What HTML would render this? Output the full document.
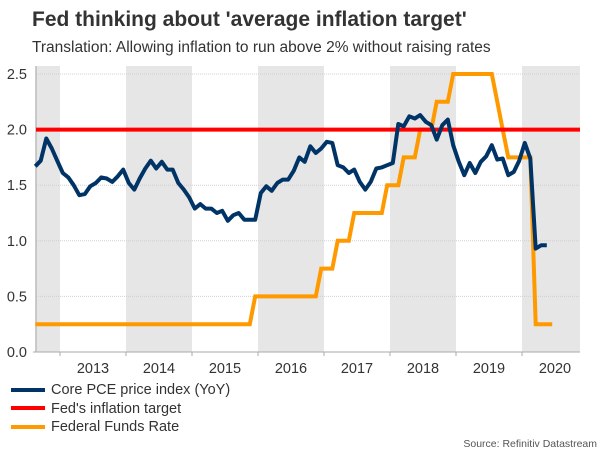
<!DOCTYPE html>
<html><head><meta charset="utf-8">
<style>
body{margin:0;background:#fff;}
svg{display:block;font-family:"Liberation Sans",Arial,sans-serif;}
</style></head>
<body>
<svg id="chart" width="600" height="450" viewBox="0 0 600 450">
<text x="32" y="26" font-size="21" font-weight="bold" fill="#333">Fed thinking about 'average inflation target'</text>
<text x="32" y="52" font-size="15.5" fill="#333">Translation: Allowing inflation to run above 2% without raising rates</text>
<g id="bands"></g>
<g id="grid"></g>
<g id="axes"></g>
<g id="series"></g>
<g>
 <g><rect x="11" y="388" width="34" height="4" fill="#003366"/><text x="51" y="394" font-size="14.5" fill="#333">Core PCE price index (YoY)</text></g>
 <g><rect x="11" y="406" width="34" height="4" fill="#ff0000"/><text x="51" y="413" font-size="14.5" fill="#333">Fed's inflation target</text></g>
 <g><rect x="11" y="425" width="34" height="4" fill="#ff9900"/><text x="51" y="431" font-size="14.5" fill="#333">Federal Funds Rate</text></g>
</g>
<text x="597" y="447" font-size="10.5" fill="#555" text-anchor="end">Source: Refinitiv Datastream</text>
</svg>
<script>
// Data: monthly, starting Aug 2012
const startYear = 2012, startMonth = 7; // 0-based month (Aug)
const corePCE = [1.67,1.72,1.92,1.83,1.72,1.61,1.57,1.50,1.41,1.42,1.49,1.52,1.57,1.56,1.53,1.58,1.64,1.52,1.46,1.56,1.65,1.72,1.65,1.71,1.64,1.64,1.52,1.46,1.39,1.29,1.33,1.29,1.29,1.25,1.27,1.18,1.23,1.25,1.19,1.19,1.19,1.43,1.49,1.45,1.52,1.55,1.55,1.63,1.75,
 1.71,1.85,1.79,1.83,1.89,1.88,1.68,1.66,1.61,1.64,1.53,1.46,1.53,1.65,1.66,1.68,1.70,2.05,2.03,2.12,2.10,2.13,2.07,2.04,1.91,2.04,2.09,1.86,1.71,1.59,1.70,1.61,1.71,1.76,1.86,1.73,1.74,1.59,1.62,1.72,1.88,1.74,0.93,0.96,0.96];
const fedFunds = [0.25,0.25,0.25,0.25,0.25,
 0.25,0.25,0.25,0.25,0.25,0.25,0.25,0.25,0.25,0.25,0.25,0.25,
 0.25,0.25,0.25,0.25,0.25,0.25,0.25,0.25,0.25,0.25,0.25,0.25,
 0.25,0.25,0.25,0.25,0.25,0.25,0.25,0.25,0.25,0.25,0.25,0.5,
 0.5,0.5,0.5,0.5,0.5,0.5,0.5,0.5,0.5,0.5,0.5,0.75,
 0.75,0.75,1.0,1.0,1.0,1.25,1.25,1.25,1.25,1.25,1.25,1.5,
 1.5,1.5,1.75,1.75,1.75,2.0,2.0,2.0,2.25,2.25,2.25,2.5,
 2.5,2.5,2.5,2.5,2.5,2.5,2.5,2.25,2.0,1.75,1.75,1.75,
 1.75,1.75,0.25,0.25,0.25,0.25];
const fedTarget = [2.0];
const yTicks = [0,0.5,1.0,1.5,2.0,2.5];
const yTickLabels = ["0.0","0.5","1.0","1.5","2.0","2.5"];
const years = [2013,2014,2015,2016,2017,2018,2019,2020];

const NS="http://www.w3.org/2000/svg";
const L=36,R=580,T=74,B=352;
function xYear(y){return 60+(y-2013)*66;}
function xMonth(i){const m=startMonth+i;return xYear(startYear+(m+0.5)/12);}
function yS(v){return B-(v/2.5)*(B-T);}
function mk(tag,attrs,parent){const e=document.createElementNS(NS,tag);for(const k in attrs)e.setAttribute(k,attrs[k]);parent.appendChild(e);return e;}

const bands=document.getElementById('bands');
[[2012,2013],[2014,2015],[2016,2017],[2018,2019],[2020,2021]].forEach(([a,b])=>{
 const x0=Math.max(L,xYear(a)),x1=Math.min(R,xYear(b));
 const r=mk('rect',{x:x0,y:T-8,width:x1-x0,height:B-T+8,fill:'#e6e6e6'},bands);
 
 
});
const grid=document.getElementById('grid');
const axes=document.getElementById('axes');
yTicks.forEach((v,i)=>{
 if(v>0){const g=mk('line',{x1:L,x2:R,y1:yS(v),y2:yS(v),stroke:'#d0d0d0','stroke-dasharray':'1,1','stroke-width':1},grid);
 
 }
 const t=mk('text',{x:27,y:yS(v)+5,'font-size':14.5,fill:'#333','text-anchor':'end'},axes);
 t.textContent=yTickLabels[i];
 
 
});
mk('line',{x1:L,x2:L,y1:T-8,y2:B,stroke:'#bbb','stroke-width':1.5},axes);
mk('line',{x1:L-3,x2:R,y1:B,y2:B,stroke:'#aaa','stroke-width':1},axes);
years.forEach(y=>{
 mk('line',{x1:xYear(y),x2:xYear(y),y1:B,y2:B+4,stroke:'#aaa'},axes);
 const t=mk('text',{x:xYear(y)+33,y:373,'font-size':14.5,fill:'#333','text-anchor':'middle'},axes);
 t.textContent=y;
 
 
});
const series=document.getElementById('series');
function path(arr){return arr.map((v,i)=>(i?'L':'M')+xMonth(i).toFixed(1)+','+yS(v).toFixed(1)).join('');}
const ff=mk('path',{d:path(fedFunds),fill:'none',stroke:'#ff9900','stroke-width':4,'stroke-linejoin':'miter'},series);


const tg=mk('line',{x1:L,x2:R,y1:yS(fedTarget[0]),y2:yS(fedTarget[0]),stroke:'#ff0000','stroke-width':4},series);


const cp=mk('path',{d:path(corePCE),fill:'none',stroke:'#003366','stroke-width':4,'stroke-linejoin':'round'},series);


</script>
</body></html>
